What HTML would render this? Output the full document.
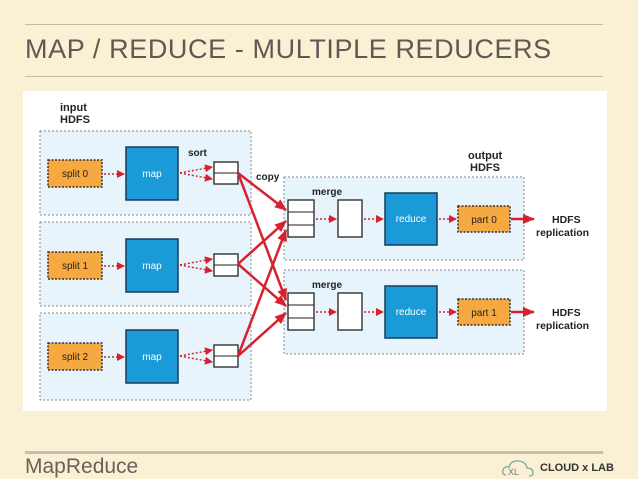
<!DOCTYPE html>
<html><head><style>
body{margin:0;width:638px;height:479px;background:#faf0d3;position:relative;overflow:hidden;font-family:"Liberation Sans",sans-serif}
.ln{position:absolute;left:25px;width:578px;height:1px;background:#c9bb9b}
</style></head><body>
<div class="ln" style="top:24px"></div>
<div class="ln" style="top:76px"></div>
<div style="position:absolute;left:25px;top:34px;font-size:27px;color:#5d5a55;letter-spacing:0.6px">MAP / REDUCE - MULTIPLE REDUCERS</div>
<div style="position:absolute;left:23px;top:91px;width:584px;height:320px;background:#fff"></div>
<div style="position:absolute;left:25px;top:451px;width:578px;height:3px;background:#c7beac"></div>
<div style="position:absolute;left:25px;top:455px;font-size:21px;color:#66625c">MapReduce</div>
<div style="position:absolute;left:540px;top:462px;font-size:11px;font-weight:bold;color:#333">CLOUD x LAB</div>
<svg style="position:absolute;left:500px;top:456px" width="40" height="22"><path d="M6 19 Q2 19 3 14 Q4 10 9 11 Q11 4 19 5 Q26 6 27 12 Q33 12 33 17 Q33 20 29 20" fill="none" stroke="#7aa" stroke-width="1.3"/><text x="8" y="19" font-size="9" fill="#777" font-family="Liberation Sans">XL</text></svg>
<svg style="position:absolute;left:0;top:0" width="638" height="479" font-family="Liberation Sans" font-weight="bold">
<defs><marker id="a" markerWidth="8" markerHeight="8" refX="7" refY="4" orient="auto" markerUnits="userSpaceOnUse"><path d="M0,0 L8,4 L0,8z" fill="#d7212e"/></marker>
<marker id="b" markerWidth="12" markerHeight="10" refX="11" refY="5" orient="auto" markerUnits="userSpaceOnUse"><path d="M0,0 L12,5 L0,10z" fill="#d7212e"/></marker></defs>
<g font-size="11" fill="#222"><text x="60" y="111">input</text><text x="60" y="123">HDFS</text>
<text x="468" y="159">output</text><text x="470" y="171">HDFS</text></g>
<g fill="#e8f4fb" stroke="#888" stroke-dasharray="2,2">
<rect x="40" y="131" width="211" height="84"/><rect x="40" y="222" width="211" height="84"/><rect x="40" y="313" width="211" height="87"/>
<rect x="284" y="177" width="240" height="83"/><rect x="284" y="270" width="240" height="84"/></g>
<g id="m">
<rect x="48" y="160" width="54" height="27" fill="#f7a941" stroke="#333" stroke-dasharray="2,1.5" stroke-width="1.5"/>
<rect x="126" y="147" width="52" height="53" fill="#1a9ad6" stroke="#1a3a5a" stroke-width="1.5"/>
<text x="152" y="177" font-size="10" font-weight="normal" text-anchor="middle" fill="#fff">map</text>
<rect x="214" y="162" width="24" height="22" fill="#fff" stroke="#222" stroke-width="1.3"/><line x1="214" y1="173" x2="238" y2="173" stroke="#222"/>
<g stroke="#d7212e" stroke-dasharray="2,2" stroke-width="1.5" fill="none"><line x1="104" y1="174" x2="124" y2="174" marker-end="url(#a)"/>
<line x1="180" y1="173" x2="212" y2="167" marker-end="url(#a)"/><line x1="180" y1="173" x2="212" y2="179" marker-end="url(#a)"/></g></g>
<use href="#m" y="92"/><use href="#m" y="183"/>
<g font-size="10" font-weight="normal" text-anchor="middle" fill="#222"><text x="75" y="177">split 0</text><text x="75" y="269">split 1</text><text x="75" y="360">split 2</text></g>
<g font-size="10" fill="#222"><text x="188" y="156">sort</text><text x="256" y="180">copy</text><text x="312" y="195">merge</text><text x="312" y="288">merge</text></g>
<g id="r">
<rect x="288" y="200" width="26" height="37" fill="#fff" stroke="#222" stroke-width="1.3"/><line x1="288" y1="212" x2="314" y2="212" stroke="#222"/><line x1="288" y1="225" x2="314" y2="225" stroke="#222"/>
<rect x="338" y="200" width="24" height="37" fill="#fff" stroke="#222" stroke-width="1.3"/>
<rect x="385" y="193" width="52" height="52" fill="#1a9ad6" stroke="#1a3a5a" stroke-width="1.5"/>
<text x="411" y="222" font-size="10" font-weight="normal" text-anchor="middle" fill="#fff">reduce</text>
<rect x="458" y="206" width="52" height="26" fill="#f7a941" stroke="#333" stroke-dasharray="2,1.5" stroke-width="1.5"/>
<g stroke="#d7212e" stroke-dasharray="2,2" stroke-width="1.5"><line x1="316" y1="219" x2="336" y2="219" marker-end="url(#a)"/><line x1="364" y1="219" x2="383" y2="219" marker-end="url(#a)"/><line x1="439" y1="219" x2="456" y2="219" marker-end="url(#a)"/></g>
<line x1="511" y1="219" x2="534" y2="219" stroke="#d7212e" stroke-width="2.5" marker-end="url(#b)"/>
<text x="552" y="223" font-size="10.5" fill="#222">HDFS</text><text x="536" y="236" font-size="10.5" fill="#222">replication</text></g>
<use href="#r" y="93"/>
<g font-size="10" font-weight="normal" fill="#222" text-anchor="middle"><text x="484" y="223">part 0</text><text x="484" y="316">part 1</text></g>
<g stroke="#d7212e" stroke-width="2.5" fill="none">
<line x1="238" y1="173" x2="286" y2="210" marker-end="url(#b)"/><line x1="238" y1="173" x2="286" y2="300" marker-end="url(#b)"/>
<line x1="238" y1="264" x2="286" y2="221" marker-end="url(#b)"/><line x1="238" y1="264" x2="286" y2="306" marker-end="url(#b)"/>
<line x1="238" y1="356" x2="286" y2="230" marker-end="url(#b)"/><line x1="238" y1="356" x2="286" y2="313" marker-end="url(#b)"/></g>
</svg>
</body></html>
